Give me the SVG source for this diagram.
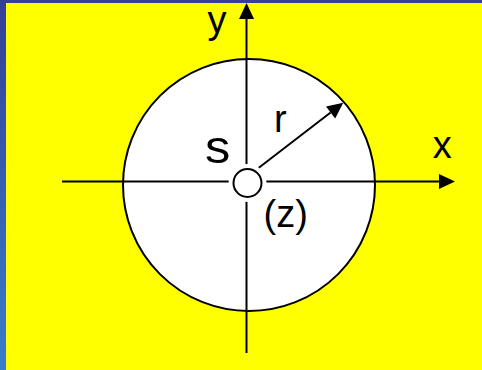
<svg xmlns="http://www.w3.org/2000/svg" width="482" height="370" viewBox="0 0 482 370">
<style>
.ax{stroke:#000;stroke-width:2;fill:none}
.lbl{font-family:"Liberation Sans",Arial,sans-serif;font-size:38px;fill:#000}
</style>
<defs>
<linearGradient id="bg" x1="0" y1="0" x2="0" y2="1">
<stop offset="0" stop-color="#333f99"/>
<stop offset="1" stop-color="#3a7ccc"/>
</linearGradient>
<marker id="arr" markerUnits="userSpaceOnUse" markerWidth="17" markerHeight="16" refX="0" refY="7.5" orient="auto" overflow="visible">
<path d="M0,0 L16,7.5 L0,15 Z" fill="#000"/>
</marker>
</defs>
<rect x="0" y="0" width="482" height="370" fill="url(#bg)"/>
<rect x="6" y="3" width="476" height="367" fill="#ffff00"/>
<g id="disk">
<circle cx="249" cy="185" r="126" fill="#fff" stroke="#000" stroke-width="2"/>
</g>
<g id="connectors">
<line class="ax" x1="62" y1="181.5" x2="439" y2="181.5" marker-end="url(#arr)"/>
<line class="ax" x1="246.5" y1="353" x2="246.5" y2="19" marker-end="url(#arr)"/>
<line class="ax" x1="258.5" y1="168" x2="330.6" y2="112.5" stroke-width="1.8" marker-end="url(#arr)"/>
</g>
<g id="origin">
<circle cx="247.5" cy="183" r="19" fill="#fff"/>
<circle cx="247.5" cy="183" r="14" fill="#fff" stroke="#000" stroke-width="2"/>
</g>
<g id="label-y"><text class="lbl" x="207.5" y="33">y</text></g>
<g id="label-x"><text class="lbl" x="432.8" y="158.3">x</text></g>
<g id="label-r"><text class="lbl" x="274" y="131.7">r</text></g>
<g id="label-s"><text class="lbl" style="font-size:46px" transform="translate(205,163) scale(1.1,1)">s</text></g>
<g id="label-z"><text class="lbl" x="263.5" y="227">(z)</text></g>
</svg>
